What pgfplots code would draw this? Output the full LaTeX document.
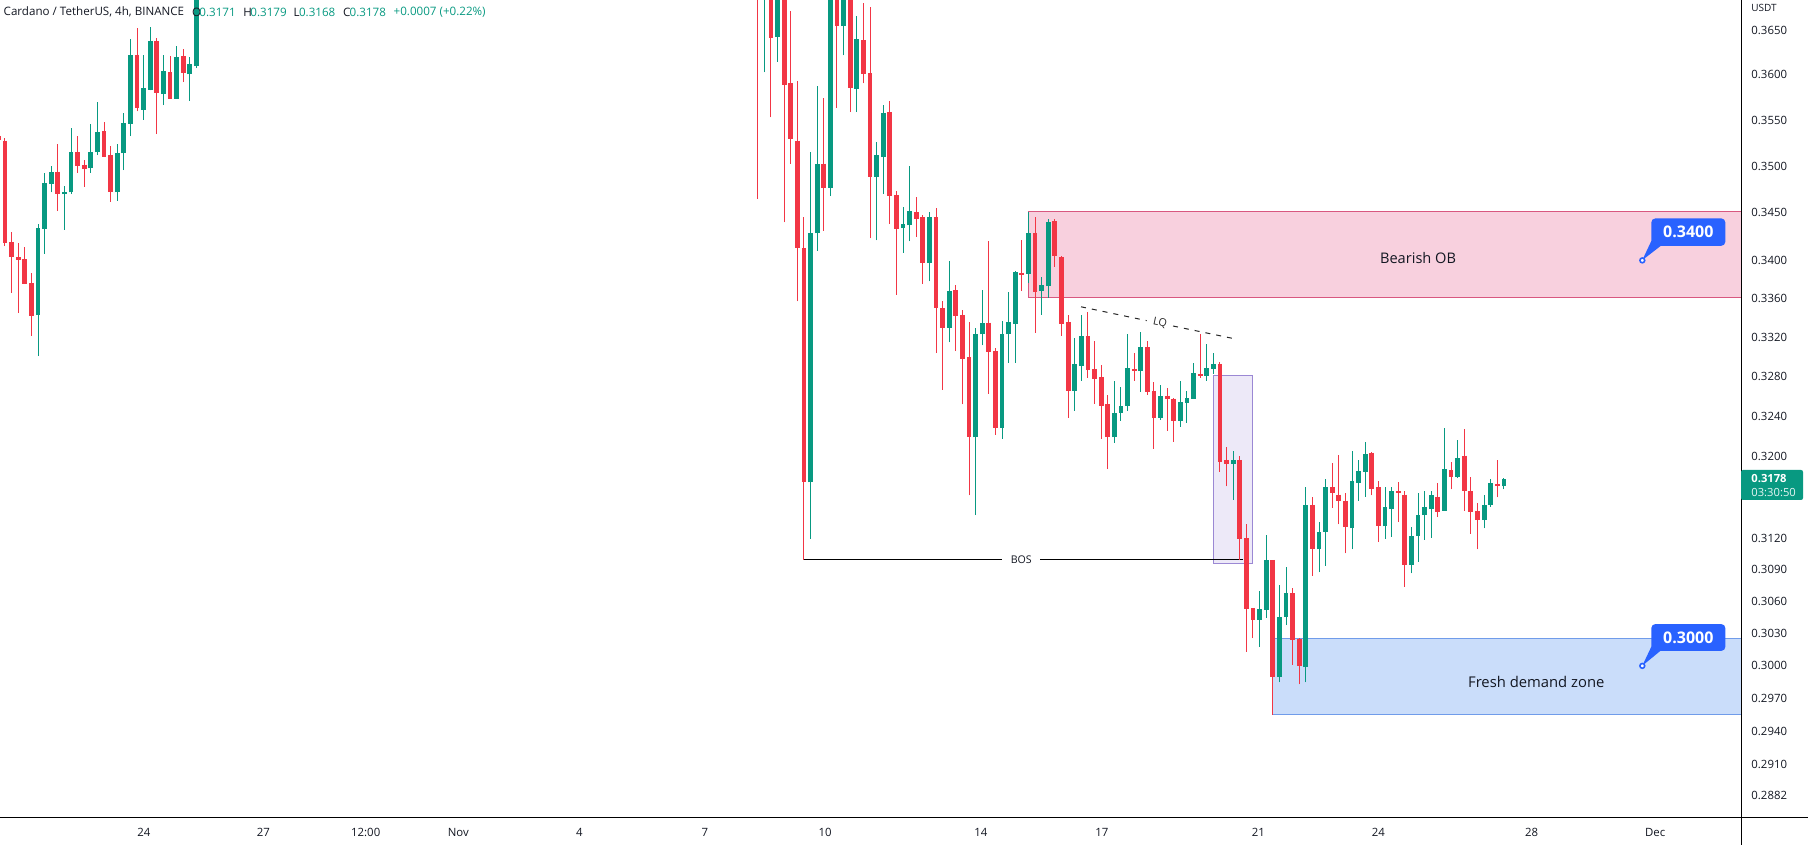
\documentclass[border=0pt]{standalone}
\usepackage{fontspec}
\setmainfont{Open Sans}
\usepackage{pgfplots}
\usepackage{pgfplotstable}
\pgfplotsset{compat=1.18}
\definecolor{tvgreen}{RGB}{8,153,129}
\definecolor{tvred}{RGB}{242,54,69}
\definecolor{tvtext}{RGB}{19,23,34}
\definecolor{tvblue}{RGB}{41,98,255}
\definecolor{obfill}{RGB}{248,208,222}
\definecolor{obline}{RGB}{216,88,128}
\definecolor{fvgfill}{RGB}{237,233,248}
\definecolor{fvgline}{RGB}{155,136,212}
\definecolor{dzfill}{RGB}{202,221,250}
\definecolor{dzline}{RGB}{112,156,234}
\newcommand\fs[1]{\fontsize{#1pt}{#1pt}\selectfont}

% 4h candles: index, open, high, low, close
\pgfplotstableread{
i o h l c
-1 0.3533 0.3534 0.3528 0.3529
0 0.3528 0.3531 0.3415 0.3418
1 0.3419 0.3430 0.3366 0.3403
2 0.3403 0.3418 0.3345 0.3400
3 0.3401 0.3414 0.3375 0.3375
4 0.3376 0.3387 0.3322 0.3342
5 0.3343 0.3438 0.3301 0.3434
6 0.3433 0.3493 0.3407 0.3482
7 0.3481 0.3501 0.3472 0.3494
8 0.3494 0.3524 0.3452 0.3470
9 0.3470 0.3479 0.3432 0.3472
10 0.3472 0.3541 0.3470 0.3515
11 0.3515 0.3533 0.3493 0.3501
12 0.3502 0.3507 0.3478 0.3497
13 0.3498 0.3546 0.3493 0.3515
14 0.3515 0.3570 0.3512 0.3537
15 0.3538 0.3548 0.3510 0.3510
16 0.3512 0.3522 0.3462 0.3472
17 0.3472 0.3524 0.3463 0.3514
18 0.3514 0.3558 0.3496 0.3547
19 0.3546 0.3640 0.3533 0.3623
20 0.3623 0.3653 0.3560 0.3563
21 0.3562 0.3623 0.3551 0.3586
22 0.3584 0.3654 0.3583 0.3638
23 0.3638 0.3642 0.3535 0.3580
24 0.3579 0.3623 0.3567 0.3604
25 0.3603 0.3621 0.3574 0.3574
26 0.3574 0.3633 0.3574 0.3620
27 0.3621 0.3629 0.3592 0.3602
28 0.3601 0.3620 0.3572 0.3612
29 0.3610 0.3780 0.3608 0.3760
114 0.3900 0.3920 0.3465 0.3760
115 0.3720 0.3800 0.3603 0.3760
116 0.3760 0.3800 0.3553 0.3642
117 0.3643 0.3760 0.3615 0.3720
118 0.3720 0.3740 0.3440 0.3589
119 0.3591 0.3672 0.3503 0.3530
120 0.3528 0.3593 0.3357 0.3413
121 0.3413 0.3445 0.3100 0.3175
122 0.3175 0.3516 0.3120 0.3429
123 0.3428 0.3588 0.3410 0.3503
124 0.3503 0.3575 0.3431 0.3477
125 0.3477 0.3740 0.3468 0.3720
126 0.3740 0.3760 0.3564 0.3655
127 0.3655 0.3740 0.3622 0.3720
128 0.3700 0.3720 0.3559 0.3586
129 0.3585 0.3666 0.3559 0.3640
130 0.3639 0.3681 0.3591 0.3601
131 0.3602 0.3677 0.3423 0.3489
132 0.3489 0.3527 0.3421 0.3512
133 0.3510 0.3567 0.3470 0.3558
134 0.3559 0.3571 0.3438 0.3468
135 0.3469 0.3473 0.3364 0.3433
136 0.3434 0.3456 0.3408 0.3438
137 0.3437 0.3501 0.3420 0.3452
138 0.3451 0.3467 0.3425 0.3444
139 0.3445 0.3448 0.3375 0.3397
140 0.3397 0.3451 0.3378 0.3445
141 0.3445 0.3455 0.3304 0.3350
142 0.3350 0.3357 0.3267 0.3330
143 0.3330 0.3399 0.3315 0.3368
144 0.3369 0.3374 0.3306 0.3342
145 0.3343 0.3348 0.3252 0.3298
146 0.3300 0.3336 0.3162 0.3219
147 0.3219 0.3330 0.3143 0.3324
148 0.3323 0.3369 0.3312 0.3335
149 0.3335 0.3420 0.3263 0.3305
150 0.3306 0.3309 0.3222 0.3229
151 0.3229 0.3337 0.3218 0.3324
152 0.3323 0.3367 0.3294 0.3336
153 0.3334 0.3389 0.3294 0.3388
154 0.3387 0.3421 0.3368 0.3385
155 0.3386 0.3451 0.3376 0.3429
156 0.3429 0.3446 0.3325 0.3367
157 0.3368 0.3382 0.3343 0.3374
158 0.3373 0.3444 0.3361 0.3440
159 0.3441 0.3444 0.3393 0.3404
160 0.3403 0.3404 0.3322 0.3334
161 0.3336 0.3343 0.3239 0.3266
162 0.3266 0.3319 0.3246 0.3293
163 0.3291 0.3343 0.3276 0.3321
164 0.3321 0.3346 0.3279 0.3287
165 0.3288 0.3317 0.3253 0.3278
166 0.3280 0.3292 0.3218 0.3251
167 0.3252 0.3262 0.3188 0.3220
168 0.3219 0.3276 0.3214 0.3244
169 0.3244 0.3270 0.3236 0.3251
170 0.3251 0.3323 0.3246 0.3289
171 0.3288 0.3304 0.3276 0.3286
172 0.3286 0.3326 0.3265 0.3310
173 0.3310 0.3316 0.3262 0.3265
174 0.3266 0.3275 0.3208 0.3239
175 0.3239 0.3272 0.3237 0.3261
176 0.3261 0.3269 0.3226 0.3258
177 0.3258 0.3259 0.3215 0.3236
178 0.3236 0.3276 0.3230 0.3255
179 0.3254 0.3266 0.3234 0.3259
180 0.3258 0.3294 0.3258 0.3284
181 0.3283 0.3323 0.3279 0.3281
182 0.3281 0.3313 0.3276 0.3289
183 0.3288 0.3304 0.3283 0.3293
184 0.3293 0.3295 0.3185 0.3195
185 0.3197 0.3210 0.3171 0.3193
186 0.3193 0.3206 0.3158 0.3197
187 0.3197 0.3201 0.3100 0.3120
188 0.3121 0.3134 0.3013 0.3053
189 0.3054 0.3054 0.3026 0.3043
190 0.3043 0.3070 0.3018 0.3053
191 0.3052 0.3124 0.3045 0.3100
192 0.3100 0.3100 0.2955 0.2990
193 0.2990 0.3076 0.2985 0.3046
194 0.3046 0.3093 0.3038 0.3068
195 0.3068 0.3073 0.3001 0.3024
196 0.3025 0.3026 0.2983 0.3000
197 0.2999 0.3170 0.2985 0.3153
198 0.3153 0.3161 0.3085 0.3110
199 0.3110 0.3136 0.3088 0.3127
200 0.3127 0.3178 0.3094 0.3170
201 0.3170 0.3194 0.3150 0.3164
202 0.3163 0.3202 0.3134 0.3157
203 0.3157 0.3164 0.3106 0.3131
204 0.3130 0.3206 0.3110 0.3176
205 0.3174 0.3197 0.3157 0.3186
206 0.3185 0.3215 0.3161 0.3203
207 0.3204 0.3205 0.3162 0.3168
208 0.3170 0.3176 0.3117 0.3132
209 0.3132 0.3170 0.3120 0.3151
210 0.3149 0.3170 0.3122 0.3166
211 0.3166 0.3175 0.3136 0.3164
212 0.3163 0.3166 0.3074 0.3095
213 0.3095 0.3131 0.3087 0.3123
214 0.3123 0.3164 0.3098 0.3143
215 0.3143 0.3166 0.3119 0.3151
216 0.3149 0.3166 0.3121 0.3162
217 0.3161 0.3174 0.3141 0.3146
218 0.3147 0.3229 0.3147 0.3188
219 0.3187 0.3195 0.3168 0.3180
220 0.3180 0.3217 0.3179 0.3199
221 0.3201 0.3228 0.3147 0.3166
222 0.3166 0.3180 0.3125 0.3146
223 0.3147 0.3155 0.3110 0.3138
224 0.3138 0.3163 0.3130 0.3153
225 0.3153 0.3178 0.3151 0.3174
226 0.3173 0.3197 0.3160 0.3171
227 0.3171 0.3179 0.3168 0.3178
}\candles

\begin{document}
\begin{tikzpicture}[x=1pt,y=1pt]
\pgfplotstablegetrowsof{\candles}
\pgfmathtruncatemacro\nr{\pgfplotsretval-1}

\begin{axis}[
  at={(0,0)}, anchor=south west,
  scale only axis, width=870.5pt, height=409pt,
  xmin=-0.757, xmax=262.91,
  % logarithmic price scale
  y coord trafo/.code={\pgfmathparse{ln(#1)}},
  y coord inv trafo/.code={\pgfmathparse{exp(#1)}},
  ymin=0.28624, ymax=0.36842,
  axis line style={draw=none},
  major tick length=0pt, tick style={draw=none},
  xtick={21.05,39.12,54.63,68.65,87.0,106.0,124.2,147.8,166.1,189.8,208.0,231.2,249.9},
  xticklabels={24,27,12:00,Nov,4,7,10,14,17,21,24,28,Dec},
  ytick={0.2882,0.2910,0.2940,0.2970,0.3000,0.3030,0.3060,0.3090,0.3120,0.3200,0.3240,0.3280,0.3320,0.3360,0.3400,0.3450,0.3500,0.3550,0.3600,0.3650},
  yticklabels={0.2882,0.2910,0.2940,0.2970,0.3000,0.3030,0.3060,0.3090,0.3120,0.3200,0.3240,0.3280,0.3320,0.3360,0.3400,0.3450,0.3500,0.3550,0.3600,0.3650},
  yticklabel pos=right,
  xticklabel style={font=\fs{5.7}, text=tvtext, anchor=center, yshift=-7pt},
  yticklabel style={font=\fs{5.7}, text=tvtext, anchor=west, inner sep=0pt, xshift=5pt},
  clip=true,
]
\coordinate (boxSW) at (rel axis cs:0,0);
% zones
\draw[fill=obfill, draw=obline, line width=0.5pt] (axis cs:155,0.3361) rectangle (axis cs:266,0.3451);
\draw[fill=fvgfill, draw=fvgline, line width=0.5pt] (axis cs:183,0.3096) rectangle (axis cs:189,0.3281);
\draw[fill=dzfill, draw=dzline, line width=0.5pt] (axis cs:192,0.2955) rectangle (axis cs:266,0.3025);

% BOS line
\addplot[black, line width=0.5pt, forget plot, mark=none] coordinates {(121,0.3100) (187.55,0.3100)};

% candles, one wick and one body per row
\pgfplotsforeachungrouped \r in {0,...,\nr}{%
  \pgfplotstablegetelem{\r}{i}\of\candles\let\ci\pgfplotsretval
  \pgfplotstablegetelem{\r}{o}\of\candles\let\co\pgfplotsretval
  \pgfplotstablegetelem{\r}{h}\of\candles\let\ch\pgfplotsretval
  \pgfplotstablegetelem{\r}{l}\of\candles\let\cl\pgfplotsretval
  \pgfplotstablegetelem{\r}{c}\of\candles\let\cc\pgfplotsretval
  \ifdim\cc pt<\co pt\relax\def\ccol{tvred}\else\def\ccol{tvgreen}\fi
  \edef\tmp{%
    \noexpand\addplot[draw=\ccol, line width=0.5pt, forget plot, mark=none] coordinates {(\ci,\cl) (\ci,\ch)};
    \noexpand\addplot[draw=\ccol, line width=2.4pt, forget plot, mark=none] coordinates {(\ci,\co) (\ci,\cc)};
  }\tmp
}

% liquidity line
\addplot[black!85, line width=0.5pt, dash pattern=on 2.5pt off 3pt, forget plot, mark=none] coordinates {(162.96,0.33515) (172.9,0.33373)};
\addplot[black!85, line width=0.5pt, dash pattern=on 2.5pt off 3pt, forget plot, mark=none] coordinates {(176.9,0.33316) (186.55,0.33180)};
\node[rotate=-11.8, font=\fs{5.4}, text=black!85, inner sep=0pt] at (axis cs:174.9,0.33345) {LQ};

% labels
\node[fill=white, inner xsep=4.2pt, inner ysep=1pt, font=\fs{5.3}, text=tvtext] at (axis cs:153.9,0.3100) {BOS};
\node[font=\fs{7.3}, text=tvtext] at (axis cs:214.0,0.3402) {Bearish OB};
\node[font=\fs{7.4}, text=tvtext] at (axis cs:231.9,0.29853) {Fresh demand zone};

% callouts
\fill[tvblue] (axis cs:247.96,0.3400) -- (axis cs:249.33,0.34201) -- (axis cs:251.14,0.3417) -- cycle;
\node[fill=tvblue, rounded corners=2pt, minimum width=37pt, minimum height=13.7pt, inner sep=0pt, text=white, font=\bfseries\fs{8}] at (axis cs:254.93,0.34296) {0.3400};
\fill[tvblue] (axis cs:247.96,0.3000) -- (axis cs:249.33,0.30178) -- (axis cs:251.14,0.3016) -- cycle;
\node[fill=tvblue, rounded corners=2pt, minimum width=37pt, minimum height=13.4pt, inner sep=0pt, text=white, font=\bfseries\fs{8}] at (axis cs:254.93,0.30262) {0.3000};
\addplot[only marks, mark=*, mark size=1.2pt, mark options={fill=white, draw=tvblue, line width=0.8pt}, forget plot] coordinates {(247.96,0.3400) (247.96,0.3000)};
\end{axis}

\begin{scope}[shift={(boxSW)}, yshift=-13.5pt]
% header legend
\begin{scope}[every node/.style={anchor=west, inner sep=0pt, font=\fs{5.8}, text=tvtext}]
\node at (1.65,416.35) {Cardano / TetherUS, 4h, BINANCE};
\node at (95.85,416.35) {O};
\node[text=tvgreen] at (99.5,416.35) {0.3171};
\node at (121.5,416.35) {H};
\node[text=tvgreen] at (125,416.35) {0.3179};
\node at (146.65,416.35) {L};
\node[text=tvgreen] at (149.35,416.35) {0.3168};
\node at (171.35,416.35) {C};
\node[text=tvgreen] at (174.65,416.35) {0.3178};
\node[text=tvgreen] at (196.65,416.35) {+0.0007 (+0.22\%)};
\end{scope}

% axis lines
\draw[line width=0.5pt, black] (0,13.5) -- (904,13.5);
\draw[line width=0.5pt, black] (870.5,0) -- (870.5,422.5);

% price scale extras
\node[anchor=west, inner sep=0pt, font=\fs{5}, text=tvtext] at (875.5,418.5) {USDT};
\fill[tvgreen, rounded corners=1pt] (870.5,172.5) rectangle (901.5,187.5);
\node[anchor=west, inner sep=0pt, font=\bfseries\fs{5.6}, text=white] at (875.5,183.15) {0.3178};
\node[anchor=west, inner sep=0pt, font=\fs{5.6}, text=white!90!tvgreen] at (875.5,176.15) {03:30:50};

\pgfresetboundingbox
\path[use as bounding box] (0,0) rectangle (904,422.5);
\end{scope}
\end{tikzpicture}
\end{document}
